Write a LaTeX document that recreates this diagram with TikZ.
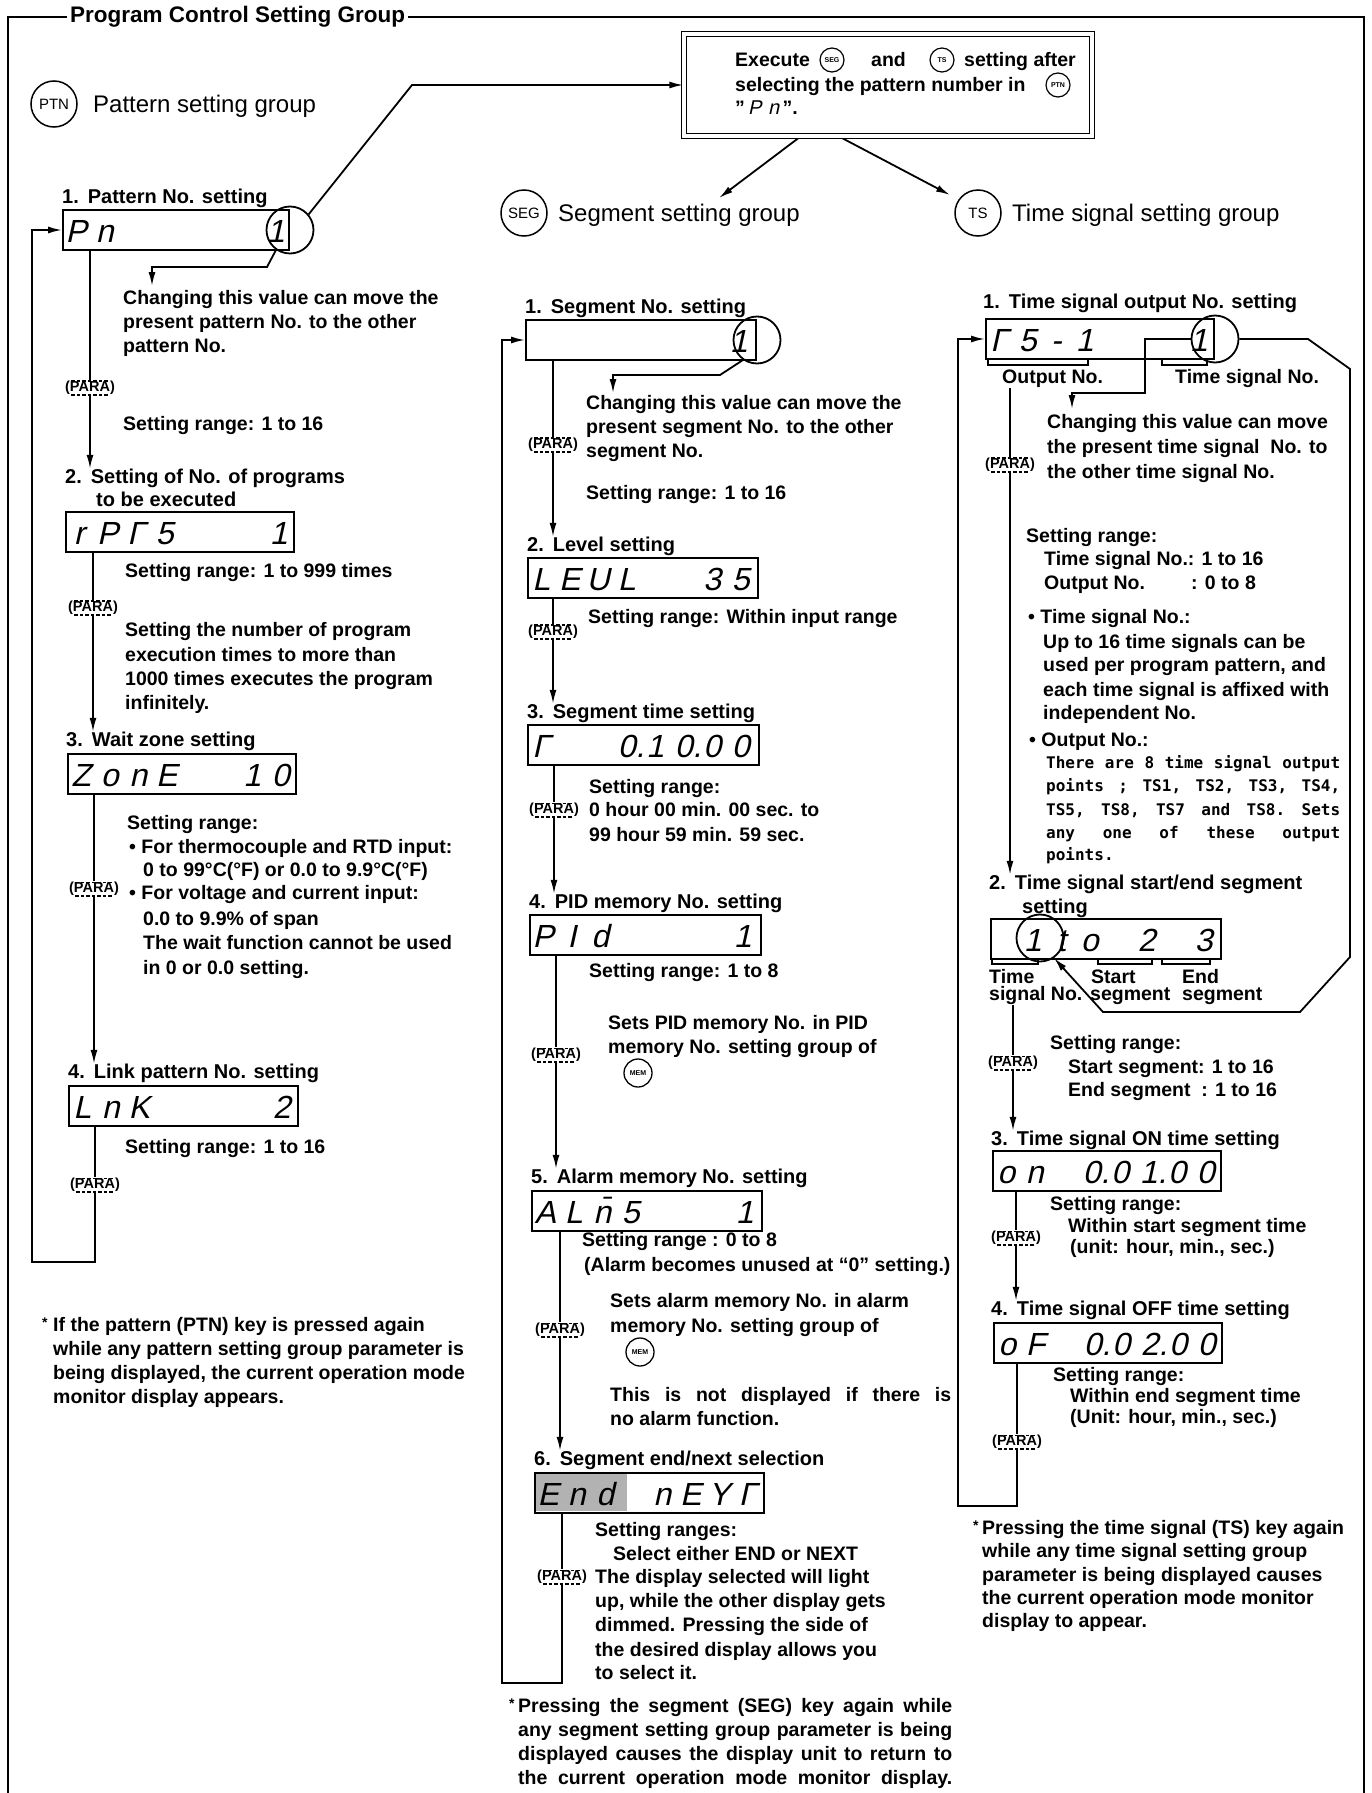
\documentclass[tikz,border=0pt]{standalone}
\usepackage{fontspec}
\usepackage{calc}
\setmainfont{Liberation Sans}
\newfontfamily\segf[FakeSlant=0.22]{Liberation Sans}
\newfontfamily\monof{DejaVu Sans Mono}
\usetikzlibrary{arrows.meta,calc}
\pgfdeclarelayer{back}\pgfdeclarelayer{bg}
\pgfsetlayers{back,bg,main}
\newcommand\bodyf{\fontsize{19.5}{24}\selectfont\bfseries}
\newcommand\headf{\fontsize{20}{24}\selectfont\bfseries}
\newcommand\grpf{\fontsize{24}{28}\selectfont}
\newcommand\titf{\fontsize{22.5}{26}\selectfont\bfseries}
\newcommand\segfnt{\segf\mdseries\fontsize{32}{32}\selectfont}
\newcommand\segsm{\segf\mdseries\fontsize{20}{20}\selectfont}
\newcommand\monofnt{\monof\bfseries\fontsize{16}{16}\selectfont}
\newcounter{tn}
\newcommand\tx[3]{\stepcounter{tn}\node[txt] (t\arabic{tn}) at (#1,#2) {#3};}
\newcommand\Hd[4]{\node[hdg] (#1) at (#2,#3) {#4};}
\newcommand\jst[2]{\makebox[#1pt][s]{#2}}
\newcommand\MJ[1]{\makebox[294pt][l]{#1}}
\newcommand\disp[5]{%
 \node[dispbox,minimum width=#4pt,anchor=north west] (#1) at (#2,#3) {};
 \foreach \c [count=\i] in {#5} {\node[sgch] (#1-\i) at ($(#1.west)+(\i*28.5-14.25,12)$) {\c};}}
\newcommand\paramark[3]{%
 \node[paranode] (#1) at (#2,#3) {(PARA)};
 \draw[paradash] ($(#1.north west)+(8,1.5)$) -- ($(#1.north east)+(-8,1.5)$);
 \draw[paradash] ($(#1.south west)+(8,-1.5)$) -- ($(#1.south east)+(-8,-1.5)$);}
\newcommand\brk[3]{\draw[brkline] (#1,#3) -- (#1,#3+6) -- (#2,#3+6) -- (#2,#3);}

\begin{document}
\begin{tikzpicture}[x=1pt,y=-1pt,
  txt/.style={anchor=base west,inner sep=0pt,yshift=-6.5pt,font=\bodyf},
  hdg/.style={txt,font=\headf},
  grp/.style={anchor=base west,inner sep=0pt,yshift=-8.5pt,font=\grpf},
  mono/.style={anchor=base west,inner sep=0pt,yshift=-5.5pt,font=\monofnt},
  dispbox/.style={draw,line width=2pt,minimum height=40pt,inner sep=0pt},
  sgch/.style={anchor=base,inner sep=0pt,font=\segfnt},
  valc/.style={draw,circle,line width=1.8pt,minimum size=47pt,inner sep=0pt},
  bigkey/.style={draw,circle,line width=1.5pt,minimum size=46pt,inner sep=0pt,font=\fontsize{15}{15}\selectfont},
  smkey/.style={draw,circle,line width=1.2pt,minimum size=24pt,inner sep=0pt,font=\fontsize{7}{7}\selectfont\bfseries},
  memkey/.style={draw,circle,line width=1.3pt,minimum size=28pt,inner sep=0pt,font=\fontsize{7}{7}\selectfont\bfseries},
  paranode/.style={fill=white,inner sep=1.5pt,font=\fontsize{14.5}{15}\selectfont\bfseries},
  paradash/.style={line width=1.1pt,dash pattern=on 3.5pt off 2pt},
  brkline/.style={line width=1.5pt},
  ln/.style={line width=1.8pt},
  arr/.style={ln,-{Latex[length=14pt,width=7pt]}}]
\useasboundingbox (0,0) rectangle (1372,1793);

% title and top box
\node[anchor=west,inner sep=3pt,font=\titf] (title) at (67,17) {Program Control Setting Group};
\node[draw,double,double distance=3.5pt,line width=1.3pt,minimum width=408pt,minimum height=102pt] (topbox) at (888,85) {};
\tx{735}{60}{Execute}
\node[smkey] (kx1) at (832,60) {SEG};
\tx{871}{60}{and}
\node[smkey] (kx2) at (942,60) {TS};
\tx{964}{60}{setting after}
\tx{735}{85}{selecting the pattern number in}
\node[smkey] (kx3) at (1058,85) {PTN};
\tx{735}{108}{''\,{\segsm P\,\,n}\,''.}
\coordinate (bend1) at (412,85);
\coordinate (segtip) at (719,198);
\coordinate (tstip) at (950,195);

% ===== column 1 =====
\node[bigkey] (kptn) at (54,104) {PTN};
\node[grp] (g1) at (93,104) {Pattern setting group};
\Hd{h11}{62}{197}{1.\hspace{0.45em}Pattern No. setting}
\disp{pn}{62}{209}{226}{P,n,,,,,,1}
\node[valc] (pnc) at (pn.east) {};
\coordinate (pnnote) at (152,286);
\tx{123}{298}{Changing this value can move the}
\tx{123}{322}{present pattern No. to the other}
\tx{123}{346}{pattern No.}
\paramark{pa1}{90}{388}
\tx{123}{424}{Setting range: 1 to 16}
\Hd{h12}{65}{477}{2.\hspace{0.45em}Setting of No. of programs}
\Hd{h12b}{96}{500}{to be executed}
\disp{rpts}{65}{511}{228}{r,P,Γ,5,,,,1}
\tx{125}{571}{Setting range: 1 to 999 times}
\paramark{pa2}{93}{608}
\tx{125}{630}{Setting the number of program}
\tx{125}{655}{execution times to more than}
\tx{125}{679}{1000 times executes the program}
\tx{125}{703}{infinitely.}
\Hd{h13}{66}{740}{3.\hspace{0.45em}Wait zone setting}
\disp{zone}{67}{753}{228}{Z,o,n,E,,,1,0}
\tx{127}{823}{Setting range:}
\tx{129}{847}{\textbullet\ For thermocouple and RTD input:}
\tx{143}{870}{0 to 99°C(°F) or 0.0 to 9.9°C(°F)}
\paramark{pa3}{94}{889}
\tx{129}{893}{\textbullet\ For voltage and current input:}
\tx{143}{919}{0.0 to 9.9\% of span}
\tx{143}{943}{The wait function cannot be used}
\tx{143}{968}{in 0 or 0.0 setting.}
\Hd{h14}{68}{1072}{4.\hspace{0.45em}Link pattern No. setting}
\disp{lnk}{68}{1085}{229}{L,n,K,,,,,2}
\tx{125}{1147}{Setting range: 1 to 16}
\paramark{pa4}{95}{1185}
\coordinate (c1b) at (95,1262);
\coordinate (c1l) at (32,1262);
\node[txt,font=\fontsize{14}{14}\selectfont\bfseries] (ast1) at (42,1321) {*};
\tx{53}{1325}{If the pattern (PTN) key is pressed again}
\tx{53}{1349}{while any pattern setting group parameter is}
\tx{53}{1373}{being displayed, the current operation mode}
\tx{53}{1397}{monitor display appears.}

% ===== column 2 =====
\node[bigkey] (kseg) at (524,213) {SEG};
\node[grp] (g2) at (558,213) {Segment setting group};
\Hd{h21}{525}{307}{1.\hspace{0.45em}Segment No. setting}
\disp{seg}{525}{319}{230}{,,,,,,,1}
\node[valc] (segc) at (seg.east) {};
\coordinate (segnote) at (613,393);
\tx{586}{403}{Changing this value can move the}
\tx{586}{427}{present segment No. to the other}
\tx{586}{451}{segment No.}
\paramark{pb1}{553}{445}
\tx{586}{493}{Setting range: 1 to 16}
\Hd{h22}{527}{545}{2.\hspace{0.45em}Level setting}
\disp{lev}{527}{557}{230}{L,E,U,L,,,3,5}
\tx{588}{617}{Setting range: Within input range}
\paramark{pb2}{553}{632}
\Hd{h23}{527}{712}{3.\hspace{0.45em}Segment time setting}
\disp{tim}{527}{724}{231}{Γ,,,0\rlap{.},1,0\rlap{.},0,0}
\tx{589}{787}{Setting range:}
\paramark{pb3}{554}{810}
\tx{589}{810}{0 hour 00 min. 00 sec. to}
\tx{589}{835}{99 hour 59 min. 59 sec.}
\Hd{h24}{529}{902}{4.\hspace{0.45em}PID memory No. setting}
\disp{pid}{529}{914}{231}{P,I,d,,,,,1}
\tx{589}{971}{Setting range: 1 to 8}
\tx{608}{1023}{Sets PID memory No. in PID}
\tx{608}{1047}{memory No. setting group of}
\node[memkey] (mem1) at (638,1073) {MEM};
\paramark{pb4}{556}{1055}
\Hd{h25}{531}{1177}{5.\hspace{0.45em}Alarm memory No. setting}
\disp{alm}{531}{1190}{230}{A,L,\=n,5,,,,1}
\tx{582}{1240}{Setting range : 0 to 8}
\tx{584}{1265}{(Alarm becomes unused at ``0'' setting.)}
\tx{610}{1301}{Sets alarm memory No. in alarm}
\tx{610}{1326}{memory No. setting group of}
\node[memkey] (mem2) at (640,1352) {MEM};
\paramark{pb5}{560}{1330}
\tx{610}{1395}{\jst{341}{This is not displayed if there is}}
\tx{610}{1419}{no alarm function.}
\Hd{h26}{534}{1459}{6.\hspace{0.45em}Segment end/next selection}
\fill[black!30] (535,1473) rectangle (627,1511);
\disp{endd}{534}{1472}{229}{E,n,d,,n,E,Y,Γ}
\tx{595}{1530}{Setting ranges:}
\tx{613}{1554}{Select either END or NEXT}
\paramark{pb6}{562}{1577}
\tx{595}{1577}{The display selected will light}
\tx{595}{1601}{up, while the other display gets}
\tx{595}{1625}{dimmed. Pressing the side of}
\tx{595}{1650}{the desired display allows you}
\tx{595}{1673}{to select it.}
\coordinate (c2b) at (562,1683);
\coordinate (c2l) at (502,1683);
\node[txt,font=\fontsize{14}{14}\selectfont\bfseries] (ast2) at (509,1702) {*};
\tx{518}{1706}{\jst{434}{Pressing the segment (SEG) key again while}}
\tx{518}{1730}{\jst{434}{any segment setting group parameter is being}}
\tx{518}{1754}{\jst{434}{displayed causes the display unit to return to}}
\tx{518}{1778}{\jst{434}{the current operation mode monitor display.}}

% ===== column 3 =====
\node[bigkey] (kts) at (978,213) {TS};
\node[grp] (g3) at (1012,213) {Time signal setting group};
\Hd{h31}{983}{302}{1.\hspace{0.45em}Time signal output No. setting}
\disp{ts}{985}{318}{228}{Γ,5,-,1,,,,1}
\node[valc] (tsc) at (ts.east) {};
\brk{988}{1088}{359}
\brk{1162}{1207}{359}
\node[txt] (lout) at (1002,377) {Output No.};
\node[txt] (ltsn) at (1175,377) {Time signal No.};
\coordinate (tsnote) at (1072,409);
\tx{1047}{422}{Changing this value can move}
\tx{1047}{447}{the present time signal\ \ No. to}
\tx{1047}{472}{the other time signal No.}
\paramark{pc1}{1010}{465}
\tx{1026}{536}{Setting range:}
\tx{1044}{559}{Time signal No.: 1 to 16}
\tx{1044}{583}{\makebox[\widthof{Time signal No.\,}][l]{Output No.}: 0 to 8}
\tx{1028}{617}{\textbullet\ Time signal No.:}
\tx{1043}{642}{Up to 16 time signals can be}
\tx{1043}{665}{used per program pattern, and}
\tx{1043}{690}{each time signal is affixed with}
\tx{1043}{713}{independent No.}
\tx{1029}{740}{\textbullet\ Output No.:}
\node[mono] (m1) at (1046,763) {\MJ{There\hfill are\hfill 8\hfill time\hfill signal\hfill output}};
\node[mono] (m2) at (1046,786) {\MJ{points\hfill ;\hfill TS1,\hfill TS2,\hfill TS3,\hfill TS4,}};
\node[mono] (m3) at (1046,810) {\MJ{TS5,\hfill TS8,\hfill TS7\hfill and\hfill TS8.\hfill Sets}};
\node[mono] (m4) at (1046,833) {\MJ{any\hfill one\hfill of\hfill these\hfill output}};
\node[mono] (m5) at (1046,855) {points.};
\Hd{h32}{989}{883}{2.\hspace{0.45em}Time signal start/end segment}
\Hd{h32b}{1022}{907}{setting}
\disp{tsse}{990}{918}{230}{,1,t,o,,2,,3}
\node[valc] (tssc) at (1040,938) {};
\brk{992}{1038}{958}
\brk{1098}{1152}{958}
\brk{1162}{1210}{958}
\node[txt] (lt1) at (989,977) {Time};
\node[txt] (lsig) at (989,994) {signal No.};
\node[txt] (ls1) at (1091,977) {Start};
\node[txt] (ls2) at (1090,994) {segment};
\node[txt] (le1) at (1182,977) {End};
\node[txt] (le2) at (1182,994) {segment};
\paramark{pc2}{1013}{1063}
\tx{1050}{1043}{Setting range:}
\tx{1068}{1067}{Start segment: 1 to 16}
\tx{1068}{1090}{\makebox[\widthof{Start segment\,}][l]{End segment}: 1 to 16}
\Hd{h33}{991}{1139}{3.\hspace{0.45em}Time signal ON time setting}
\disp{ond}{992}{1150}{228}{o,n,,0\rlap{.},0,1\rlap{.},0,0}
\tx{1050}{1204}{Setting range:}
\tx{1068}{1226}{Within start segment time}
\tx{1070}{1247}{(unit: hour, min., sec.)}
\paramark{pc3}{1016}{1238}
\Hd{h34}{991}{1309}{4.\hspace{0.45em}Time signal OFF time setting}
\disp{offd}{993}{1322}{228}{o,F,,0\rlap{.},0,2\rlap{.},0,0}
\tx{1053}{1375}{Setting range:}
\tx{1070}{1396}{Within end segment time}
\tx{1070}{1417}{(Unit: hour, min., sec.)}
\paramark{pc4}{1017}{1442}
\coordinate (c3b) at (1017,1506);
\coordinate (c3l) at (958,1506);
\node[txt,font=\fontsize{14}{14}\selectfont\bfseries] (ast3) at (973,1524) {*};
\tx{982}{1528}{Pressing the time signal (TS) key again}
\tx{982}{1551}{while any time signal setting group}
\tx{982}{1575}{parameter is being displayed causes}
\tx{982}{1598}{the current operation mode monitor}
\tx{982}{1621}{display to appear.}

\begin{pgfonlayer}{back}
\fill[white] (0,0) rectangle (1372,1793);
\end{pgfonlayer}
\begin{pgfonlayer}{bg}
\draw[ln] (title.west) -- (8,17) -- (8,1793);
\draw[ln] (title.east) -- (1364,17) -- (1364,1793);
\draw[arr] (pnc.40) -- (bend1) -- (topbox.west);
\draw[arr] ($(topbox.south west)+(117,0)$) -- (segtip);
\draw[arr] ($(topbox.south west)+(156,0)$) -- (tstip);
% col 1
\draw[arr] (pnc.235) -- (267,267) -- (pnnote |- 0,267) -- (pnnote);
\draw[arr] (pa1 |- pn.south) -- (pa1 |- h12.north);
\draw[arr] (pa2 |- rpts.south) -- (pa2 |- h13.north);
\draw[arr] (pa3 |- zone.south) -- (pa3 |- h14.north);
\draw[arr] (pa4 |- lnk.south) -- (c1b) -- (c1l) -- (c1l |- pn.west) -- (pn.west);
% col 2
\draw[arr] (segc.235) -- (720,375) -- (segnote |- 0,375) -- (segnote);
\draw[arr] (pb1 |- seg.south) -- (pb1 |- h22.north);
\draw[arr] (pb2 |- lev.south) -- (pb2 |- h23.north);
\draw[arr] (pb3 |- tim.south) -- (pb3 |- h24.north);
\draw[arr] (pb4 |- pid.south) -- (pb4 |- h25.north);
\draw[arr] (pb5 |- alm.south) -- (pb5 |- h26.north);
\draw[arr] (pb6 |- endd.south) -- (c2b) -- (c2l) -- (c2l |- seg.west) -- (seg.west);
% col 3
\draw[arr] (tsc.180) -- (1145,339) -- (1145,393) -- (tsnote |- 0,393) -- (tsnote);
\draw[arr] (tsc.0) -- (1308,339) -- (1350,369) -- (1350,957) -- (1300,1012) -- (1103,1012) -- (tssc.-55);
\draw[arr] (pc1 |- lout.south) -- (pc1 |- h32.north);
\draw[arr] (pc2 |- lsig.south) -- (pc2 |- h33.north);
\draw[arr] (pc3 |- ond.south) -- (pc3 |- h34.north);
\draw[arr] (pc4 |- offd.south) -- (c3b) -- (c3l) -- (c3l |- ts.west) -- (ts.west);
\end{pgfonlayer}
\end{tikzpicture}
\end{document}
